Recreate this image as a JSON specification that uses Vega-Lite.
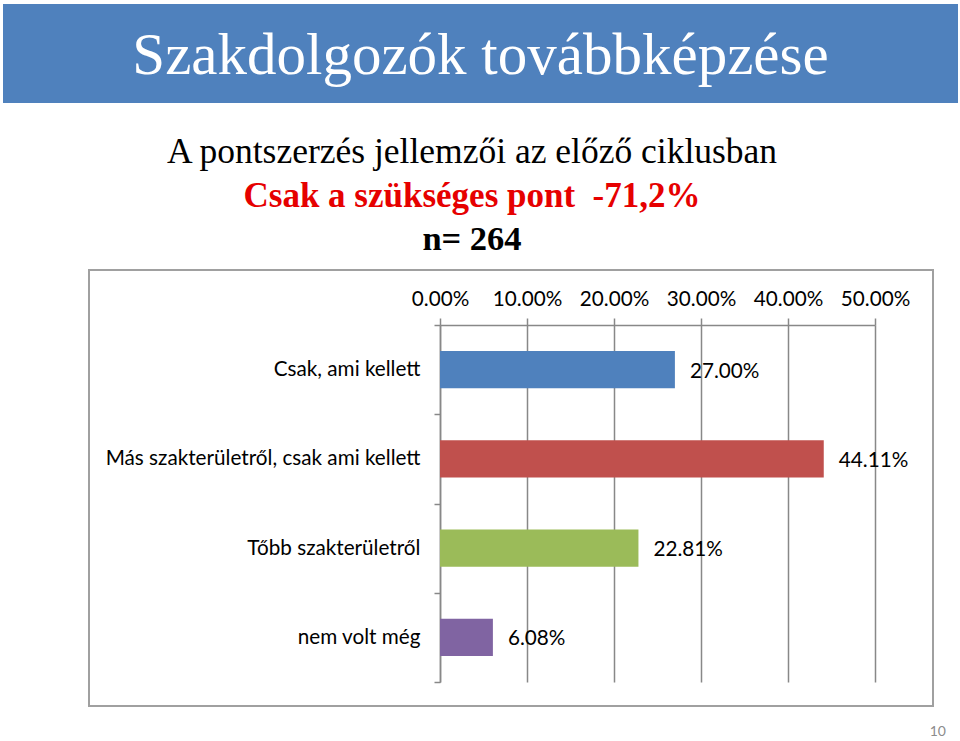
{
  "$schema": "https://vega.github.io/schema/vega-lite/v6.json",
  "background": "white",
  "padding": {"left": 3, "top": 4, "right": 2, "bottom": 0},
  "autosize": {"type": "pad"},
  "config": {"view": {"stroke": null}, "font": "Lato"},
  "spacing": 0,
  "bounds": "flush",
  "vconcat": [
    {
      "width": 955,
      "height": 99,
      "view": {"fill": "#4F81BD", "stroke": null},
      "data": {"values": [{"t": "Szakdolgozók továbbképzése"}]},
      "mark": {"type": "text", "font": "Liberation Serif", "fontSize": 59, "color": "white", "baseline": "middle", "dy": 2},
      "encoding": {"text": {"field": "t"}}
    },
    {
      "width": 938,
      "height": 167,
      "data": {"values": [
        {"line": 1, "t": "A pontszerzés jellemzői az előző ciklusban"},
        {"line": 2, "t": "Csak a szükséges pont\u00a0 -71,2%"},
        {"line": 3, "t": "n= 264"}
      ]},
      "encoding": {
        "y": {"field": "line", "type": "ordinal", "axis": null, "scale": {"type": "point", "range": [60, 147], "padding": 0}},
        "text": {"field": "t"}
      },
      "layer": [
        {"transform": [{"filter": "datum.line == 1"}], "mark": {"type": "text", "font": "Liberation Serif", "fontSize": 35.5, "color": "black", "baseline": "alphabetic"}},
        {"transform": [{"filter": "datum.line == 2"}], "mark": {"type": "text", "font": "Liberation Serif", "fontSize": 35, "fontWeight": "bold", "color": "#E60000", "baseline": "alphabetic"}},
        {"transform": [{"filter": "datum.line == 3"}], "mark": {"type": "text", "font": "Liberation Serif", "fontSize": 34.5, "fontWeight": "bold", "color": "black", "baseline": "alphabetic"}}
      ]
    },
    {
      "spacing": 0,
      "bounds": "flush",
      "hconcat": [
        {"width": 86, "height": 436, "data": {"values": []}, "mark": "point", "encoding": {}},
        {
          "width": 844,
          "height": 436,
          "view": {"stroke": "#A0A0A0", "strokeWidth": 2},
          "title": {"text": "10", "orient": "bottom", "anchor": "end", "color": "#8C8C8C", "fontSize": 14, "fontWeight": "normal", "font": "Lato", "offset": 19, "dx": 13},
          "data": {"values": [
            {"category": "Csak, ami kellett", "value": 0.27},
            {"category": "Más szakterületről, csak ami kellett", "value": 0.4411},
            {"category": "Tőbb szakterületről", "value": 0.2281},
            {"category": "nem volt még", "value": 0.0608}
          ]},
          "encoding": {
            "y": {
              "field": "category", "type": "nominal", "sort": null,
              "scale": {"range": [55, 412], "paddingInner": 0, "paddingOuter": 0},
              "axis": {"orient": "left", "offset": -351, "title": null, "tickBand": "extent", "domainColor": "#888888", "domainWidth": 1.5, "tickColor": "#888888", "tickWidth": 1.5, "tickSize": 6, "labelFont": "Lato", "labelFontSize": 20.7, "labelColor": "black", "labelPadding": 14, "labelLimit": 500, "grid": false}
            },
            "x": {
              "field": "value", "type": "quantitative",
              "scale": {"domain": [0, 0.5], "range": [351, 786], "nice": false},
              "axis": {"orient": "top", "offset": -55, "values": [0, 0.1, 0.2, 0.3, 0.4, 0.5], "format": ".2%", "title": null, "grid": true, "gridColor": "#888888", "gridWidth": 1.5, "domainColor": "#888888", "domainWidth": 1.5, "tickColor": "#888888", "tickSize": 7, "tickWidth": 1.5, "labelFont": "Lato", "labelFontSize": 20.7, "labelColor": "black", "labelPadding": 9, "labelFlush": false, "labelOverlap": false}
            }
          },
          "layer": [
            {
              "mark": {"type": "bar", "height": {"band": 0.415}},
              "encoding": {
                "color": {"field": "category", "type": "nominal", "sort": null, "legend": null,
                  "scale": {"domain": ["Csak, ami kellett", "Más szakterületről, csak ami kellett", "Tőbb szakterületről", "nem volt még"], "range": ["#4F81BD", "#C0504D", "#9BBB59", "#8064A2"]}}
              }
            },
            {
              "mark": {"type": "text", "align": "left", "baseline": "middle", "dx": 15, "dy": 2, "fontSize": 20.7, "font": "Lato", "color": "black"},
              "encoding": {"text": {"field": "value", "format": ".2%"}}
            }
          ]
        }
      ]
    }
  ]
}
